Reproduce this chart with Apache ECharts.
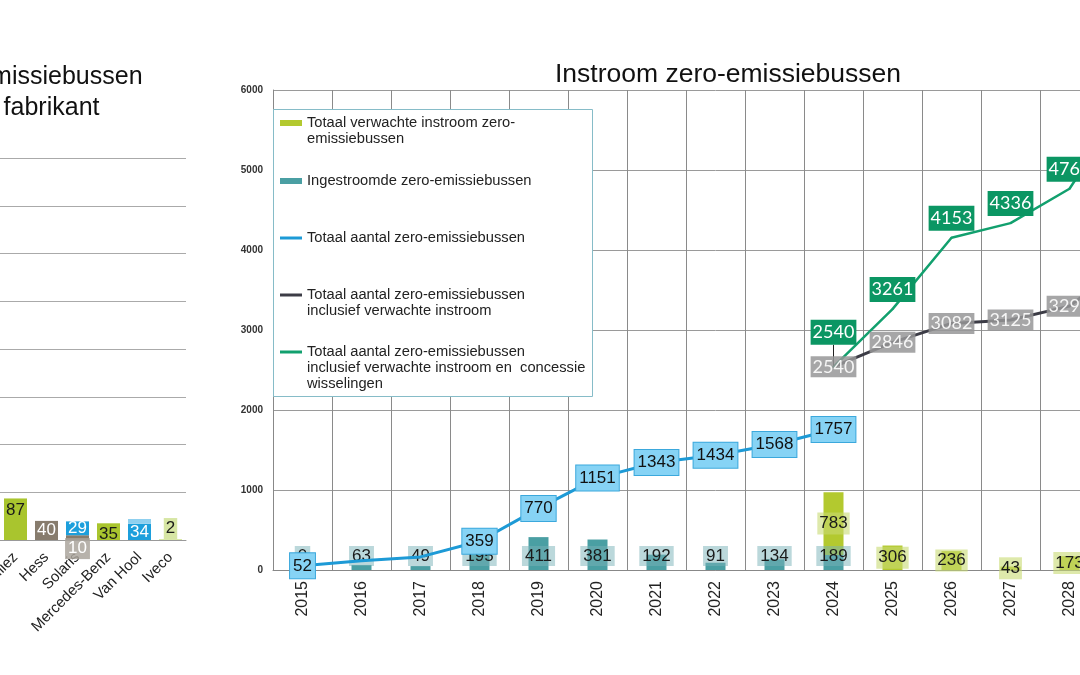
<!DOCTYPE html>
<html><head><meta charset="utf-8">
<script src="https://cdn.jsdelivr.net/npm/echarts@6/dist/echarts.min.js"></script>
<style>
html,body{margin:0;padding:0;width:1080px;height:675px;overflow:hidden;background:#fff}
#left{position:absolute;left:-170px;top:0;width:400px;height:675px}
#right{position:absolute;left:230px;top:0;width:996px;height:675px}
</style></head><body>
<div id="left"></div><div id="right"></div>
<script>
// ---------- Left chart data ----------
const fabrikanten = ['Heuliez', 'Hess', 'Solaris', 'Mercedes-Benz', 'Van Hool', 'Iveco'];
const fabA = [87, null, null, 35, null, null];
const fabB = [null, 40, 10, null, null, null];
const fabC = [null, null, 29, null, 34, null];
const fabD = [null, null, null, null, 10, null];
const fabE = [null, null, null, null, null, 2];
const leftTitle = 'Zero-emissiebussen\nper fabrikant';

// ---------- Right chart data ----------
const years = ['2015','2016','2017','2018','2019','2020','2021','2022','2023','2024','2025','2026','2027','2028','2029'];
const ingestroomd = [0, 63, 49, 195, 411, 381, 192, 91, 134, 189, null, null, null, null, null];
const verwacht = [null, null, null, null, null, null, null, null, null, 783, 306, 236, 43, 173, 560];
const totaal = [52, 115, 164, 359, 770, 1151, 1343, 1434, 1568, 1757, null, null, null, null, null];
const inclVerwacht = [null, null, null, null, null, null, null, null, null, 2540, 2846, 3082, 3125, 3298, 3860];
const inclConcessie = [null, null, null, null, null, null, null, null, null, 2540, 3261, 4153, 4336, 4766, 5890];
const unlabeledTotaalYears = ['2016', '2017'];
const rightTitle = 'Instroom zero-emissiebussen';
const names = [
  'Totaal verwachte instroom zero-emissiebussen',
  'Ingestroomde zero-emissiebussen',
  'Totaal aantal zero-emissiebussen',
  'Totaal aantal zero-emissiebussen inclusief verwachte instroom',
  'Totaal aantal zero-emissiebussen inclusief verwachte instroom en  concessie wisselingen'
];
const legendLines = [
  ['Totaal verwachte instroom zero-', 'emissiebussen'],
  ['Ingestroomde zero-emissiebussen'],
  ['Totaal aantal zero-emissiebussen'],
  ['Totaal aantal zero-emissiebussen', 'inclusief verwachte instroom'],
  ['Totaal aantal zero-emissiebussen', 'inclusief verwachte instroom en  concessie', 'wisselingen']
];

const FONT = '"Liberation Sans", Arial, sans-serif';

// ---------- Left chart ----------
const left = echarts.init(document.getElementById('left'));
function lbar(name, data, color, label, extra) {
  return Object.assign({
    name, type: 'bar', stack: 'L', barWidth: 23, data,
    itemStyle: { color },
    label: Object.assign({ show: true, fontSize: 17, fontFamily: FONT }, label)
  }, extra || {});
}
const fabBData = fabB.map((v, i) => (fabrikanten[i] === 'Solaris' && v != null)
  ? { value: v, label: { offset: [0, 11], backgroundColor: 'rgba(170,164,156,0.85)', padding: [2, 3] } } : v);
left.setOption({
  animation: false,
  title: { text: leftTitle, left: 'center', top: 57,
    textStyle: { fontSize: 25, lineHeight: 31, fontWeight: 'normal', color: '#111', fontFamily: FONT } },
  grid: { left: 170, top: 158, width: 186, height: 382 },
  xAxis: { type: 'category', data: fabrikanten,
    axisLine: { lineStyle: { color: '#999' } },
    axisTick: { length: 5, lineStyle: { color: '#999' } },
    axisLabel: { rotate: 45, fontSize: 15, color: '#222', margin: 15, fontFamily: FONT, interval: 0 } },
  yAxis: { type: 'value', min: 0, max: 800, interval: 100,
    axisLine: { show: false }, axisTick: { show: false }, axisLabel: { show: false },
    splitLine: { lineStyle: { color: '#aaa' } } },
  series: [
    lbar('A', fabA, '#a9c52e', { position: 'insideTop', distance: 3, color: '#1a1a1a' }),
    lbar('B', fabBData, '#877c6d', { position: 'inside', color: '#fff' }),
    lbar('C', fabC, '#1c9fdc', { position: 'inside', color: '#fff' }),
    lbar('D', fabD, '#8fd0ef', { show: false }),
    lbar('E', fabE, '#d7e6a4', { position: 'top', distance: 0, color: '#1a1a1a', backgroundColor: '#d7e6a4', padding: [2, 2] })
  ]
});

// ---------- Right chart ----------
const right = echarts.init(document.getElementById('right'));
const COL = {
  teal: '#4a9fa3', yellow: '#b3c92f', blue: '#1d9ad6', dark: '#3c3c46', green: '#12a06e'
};
const legendTops = [99, 173, 230, 271, 312];
const legendIconH = [6, 6, 3, 3, 3];
const legends = names.map((n, i) => ({
  data: [{ name: n, icon: 'rect' }],
  orient: 'vertical', left: 50, top: legendTops[i], padding: 0,
  itemWidth: 22, itemHeight: legendIconH[i], selectedMode: false, z: 200,
  formatter: () => {
    const ls = legendLines[i];
    return new Array(ls.length - 1).fill('').concat(ls).join('\n');
  },
  textStyle: { fontSize: 14.7, lineHeight: 16, color: '#222', fontFamily: FONT }
}));

const totaalData = totaal.map((v, i) => unlabeledTotaalYears.includes(years[i]) ? { value: v, label: { show: false } } : v);
const firstConc = inclConcessie.findIndex(v => v != null);
const concData = inclConcessie.map((v, i) => i === firstConc ? { value: v, labelLine: { show: true, lineStyle: { color: '#222', width: 1 } } } : v);

right.setOption({
  animation: false,
  title: { text: rightTitle, left: 'center', top: 56,
    textStyle: { fontSize: 26.5, fontWeight: 'normal', color: '#111', fontFamily: FONT } },
  legend: legends,
  graphic: { elements: [{ type: 'rect', z: 100,
    shape: { x: 43.5, y: 109.5, width: 319, height: 287 },
    style: { fill: '#fff', stroke: '#86bcc8', lineWidth: 1 } }] },
  grid: { left: 43, top: 90, width: 885, height: 480 },
  xAxis: { type: 'category', data: years,
    axisLine: { lineStyle: { color: '#888' } },
    axisTick: { length: 5, lineStyle: { color: '#888' } },
    splitLine: { show: true, lineStyle: { color: '#8a8a8a' } },
    axisLabel: { rotate: 90, fontSize: 16, color: '#222', margin: 11, fontFamily: FONT, interval: 0 } },
  yAxis: { type: 'value', min: 0, max: 6000, interval: 1000,
    axisLine: { show: true, lineStyle: { color: '#888' } }, axisTick: { show: false },
    axisLabel: { fontSize: 10, fontWeight: 'bold', color: '#333', margin: 10, fontFamily: FONT,
      formatter: (v) => String(v) },
    splitLine: { lineStyle: { color: '#9a9a9a' } } },
  series: [
    { name: names[1], type: 'bar', stack: 'in', barWidth: 20, data: ingestroomd,
      itemStyle: { color: COL.teal },
      label: { show: true, position: 'insideBottom', distance: 4, fontSize: 17, lineHeight: 18, color: '#1a1a1a',
        fontFamily: FONT, backgroundColor: 'rgba(120,178,184,0.5)', padding: [1, 3] } },
    { name: names[0], type: 'bar', stack: 'in', barWidth: 20, data: verwacht,
      itemStyle: { color: COL.yellow },
      label: { show: true, position: 'inside', fontSize: 17, lineHeight: 18, color: '#1a1a1a',
        fontFamily: FONT, backgroundColor: 'rgba(200,218,115,0.6)', padding: [2, 2] } },
    { name: names[2], type: 'line', data: totaalData, symbol: 'circle', symbolSize: 2,
      lineStyle: { color: COL.blue, width: 3 }, itemStyle: { color: COL.blue },
      label: { show: true, position: 'inside', fontSize: 17, lineHeight: 19, color: '#111', fontFamily: FONT,
        backgroundColor: '#86d3f5', borderColor: '#3ba8dc', borderWidth: 1, padding: [3, 3] } },
    { name: names[3], type: 'line', data: inclVerwacht, symbol: 'circle', symbolSize: 2,
      lineStyle: { color: COL.dark, width: 3 }, itemStyle: { color: COL.dark },
      label: { show: true, position: 'inside', fontSize: 18, lineHeight: 19, color: '#f6f6f6', fontFamily: 'Lato, sans-serif',
        backgroundColor: 'rgba(150,150,152,0.85)', padding: [1, 2] } },
    { name: names[4], type: 'line', data: concData, symbol: 'circle', symbolSize: 2,
      lineStyle: { color: COL.green, width: 2.5 }, itemStyle: { color: COL.green },
      labelLayout: (p) => p.dataIndex === firstConc ? { dy: -15 } : {},
      label: { show: true, position: 'top', distance: 6, fontSize: 18, lineHeight: 19, color: '#fff', fontFamily: 'Lato, sans-serif',
        backgroundColor: '#0b9663', padding: [3, 2] } }
  ]
});
</script>
</body></html>
